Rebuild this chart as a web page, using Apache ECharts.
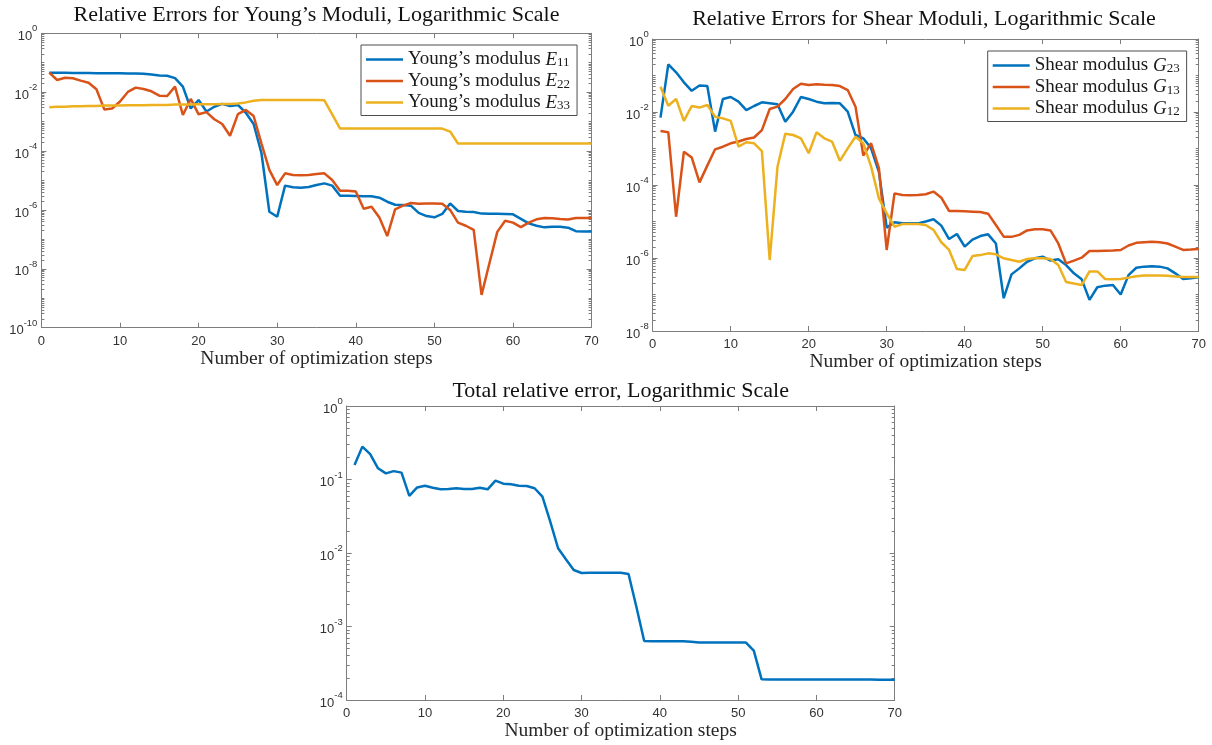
<!DOCTYPE html>
<html>
<head>
<meta charset="utf-8">
<script src="https://cdn.jsdelivr.net/npm/echarts@6/dist/echarts.min.js"></script>
<style>
  html, body { margin: 0; padding: 0; background: #ffffff; }
  #chart { width: 1212px; height: 745px; }
</style>
</head>
<body>
<div id="chart"></div>
<script>
// Optimization step index (x values 1..70)
const steps = Array.from({ length: 70 }, (_, i) => i + 1);

// Relative errors of the Young's moduli
const youngE11 = [
  0.046, 0.046, 0.046, 0.045, 0.045, 0.045, 0.044, 0.044, 0.044, 0.044,
  0.043, 0.043, 0.042, 0.040, 0.037, 0.036, 0.030, 0.0155, 0.0028, 0.0054,
  0.0022, 0.0032, 0.0040, 0.0034, 0.0037, 0.0020, 0.00083, 8.4e-5, 8.7e-7, 5.9e-7,
  6.7e-6, 5.9e-6, 5.7e-6, 6.0e-6, 7.0e-6, 8.0e-6, 6.7e-6, 3.05e-6, 3.05e-6, 3.0e-6,
  2.9e-6, 2.9e-6, 2.6e-6, 1.9e-6, 1.5e-6, 1.47e-6, 1.4e-6, 7.9e-7, 6.2e-7, 5.6e-7,
  7.3e-7, 1.67e-6, 9.2e-7, 8.7e-7, 8.5e-7, 7.5e-7, 7.4e-7, 7.4e-7, 7.3e-7, 7.1e-7,
  5.0e-7, 3.5e-7, 2.9e-7, 2.56e-7, 2.7e-7, 2.7e-7, 2.5e-7, 1.9e-7, 1.87e-7, 1.87e-7
];
const youngE22 = [
  0.046, 0.026, 0.031, 0.0296, 0.0247, 0.021, 0.0125, 0.0026, 0.0028, 0.0048,
  0.0102, 0.0143, 0.0128, 0.0107, 0.0076, 0.0074, 0.0155, 0.00168, 0.0059, 0.00177,
  0.0021, 0.0012, 0.00083, 0.00033, 0.0018, 0.0025, 0.00155, 0.00018, 2.3e-5, 7.0e-6,
  1.75e-5, 1.54e-5, 1.5e-5, 1.54e-5, 1.66e-5, 1.75e-5, 1.04e-5, 4.5e-6, 4.5e-6, 4.2e-6,
  1.1e-6, 1.29e-6, 5.5e-7, 1.3e-7, 1.05e-6, 1.4e-6, 1.72e-6, 1.63e-6, 1.67e-6, 1.67e-6,
  1.63e-6, 1.0e-6, 3.7e-7, 2.9e-7, 2.1e-7, 1.3e-9, 1.55e-8, 1.8e-7, 4.3e-7, 3.7e-7,
  2.6e-7, 3.7e-7, 4.8e-7, 5.3e-7, 5.2e-7, 4.9e-7, 4.7e-7, 5.3e-7, 5.3e-7, 5.3e-7
];
const youngE33 = [
  0.0031, 0.0032, 0.0032, 0.0033, 0.0033, 0.0034, 0.0034, 0.0035, 0.0035, 0.0035,
  0.0036, 0.0036, 0.0036, 0.0037, 0.0037, 0.0037, 0.0038, 0.0038, 0.0038, 0.0039,
  0.0039, 0.0039, 0.0040, 0.0040, 0.0041, 0.0045, 0.0051, 0.0054, 0.0054, 0.0054,
  0.0054, 0.0054, 0.0054, 0.0054, 0.0054, 0.0053, 0.00177, 0.00058, 0.00058, 0.00058,
  0.00058, 0.00058, 0.00058, 0.00058, 0.00058, 0.00058, 0.00058, 0.00058, 0.00058, 0.00058,
  0.00058, 0.00046, 0.00018, 0.00018, 0.00018, 0.00018, 0.00018, 0.00018, 0.00018, 0.00018,
  0.00018, 0.00018, 0.00018, 0.00018, 0.00018, 0.00018, 0.00018, 0.00018, 0.00018, 0.00018
];

// Relative errors of the shear moduli
const shearG23 = [
  0.0070, 0.202, 0.122, 0.065, 0.038, 0.053, 0.0515, 0.0029, 0.0227, 0.0258,
  0.0192, 0.0113, 0.0146, 0.0184, 0.0173, 0.0162, 0.0054, 0.0102, 0.0258, 0.0227,
  0.0192, 0.0173, 0.0177, 0.0173, 0.0102, 0.00234, 0.0019, 0.00101, 0.00023, 6.8e-6,
  9.5e-6, 8.9e-6, 8.9e-6, 8.9e-6, 1.0e-5, 1.15e-5, 7.7e-6, 3.3e-6, 4.55e-6, 2.04e-6,
  3.2e-6, 4.0e-6, 4.45e-6, 2.5e-6, 7.9e-8, 3.56e-7, 5.2e-7, 7.9e-7, 9.8e-7, 1.09e-6,
  8.5e-7, 9.2e-7, 6.4e-7, 3.8e-7, 2.6e-7, 7.1e-8, 1.58e-7, 1.75e-7, 1.82e-7, 1.0e-7,
  3.4e-7, 5.4e-7, 5.8e-7, 5.9e-7, 5.8e-7, 5.2e-7, 3.8e-7, 2.66e-7, 2.8e-7, 2.95e-7
];
const shearG13 = [
  0.0030, 0.00277, 1.35e-5, 0.00082, 0.00057, 0.000118, 0.00034, 0.00095, 0.00112, 0.00139,
  0.00155, 0.00182, 0.0020, 0.0032, 0.0121, 0.014, 0.0227, 0.0427, 0.0597, 0.055,
  0.0573, 0.056, 0.055, 0.0515, 0.040, 0.014, 0.00064, 0.00139, 0.00029, 1.66e-6,
  5.9e-5, 5.3e-5, 5.2e-5, 5.3e-5, 5.6e-5, 6.6e-5, 4.5e-5, 1.94e-5, 1.94e-5, 1.9e-5,
  1.86e-5, 1.82e-5, 1.64e-5, 8.0e-6, 3.85e-6, 3.8e-6, 4.3e-6, 5.7e-6, 6.1e-6, 6.1e-6,
  5.7e-6, 2.5e-6, 7.1e-7, 8.5e-7, 1.02e-6, 1.55e-6, 1.55e-6, 1.58e-6, 1.6e-6, 1.66e-6,
  2.2e-6, 2.6e-6, 2.7e-6, 2.8e-6, 2.7e-6, 2.5e-6, 2.04e-6, 1.66e-6, 1.7e-6, 1.77e-6
];
const shearG12 = [
  0.049, 0.0149, 0.0227, 0.0057, 0.0146, 0.0132, 0.0156, 0.00745, 0.0067, 0.0057,
  0.00112, 0.00148, 0.00139, 0.00085, 8.8e-7, 0.000317, 0.00255, 0.00234, 0.0019, 0.00074,
  0.00277, 0.0019, 0.00154, 0.00046, 0.00101, 0.0021, 0.00139, 0.00032, 4.3e-5, 1.67e-5,
  7.2e-6, 8.5e-6, 8.5e-6, 8.5e-6, 8.0e-6, 5.9e-6, 2.7e-6, 1.66e-6, 5.0e-7, 4.7e-7,
  1.13e-6, 1.2e-6, 1.34e-6, 1.26e-6, 9.8e-7, 8.8e-7, 7.9e-7, 9.4e-7, 9.8e-7, 9.8e-7,
  9.4e-7, 6.4e-7, 2.2e-7, 2.0e-7, 1.82e-7, 4.3e-7, 4.3e-7, 2.66e-7, 2.6e-7, 2.66e-7,
  2.9e-7, 3.15e-7, 3.3e-7, 3.3e-7, 3.3e-7, 3.25e-7, 3.1e-7, 3.0e-7, 3.0e-7, 3.0e-7
];

// Total relative error
const totalError = [
  0.157, 0.280, 0.222, 0.142, 0.121, 0.130, 0.124, 0.060, 0.078, 0.082,
  0.0774, 0.0735, 0.0745, 0.076, 0.0745, 0.0745, 0.0774, 0.0735, 0.0964, 0.0877,
  0.086, 0.082, 0.0816, 0.076, 0.0584, 0.0267, 0.0116, 0.0082, 0.00587, 0.00535,
  0.0054, 0.0054, 0.0054, 0.0054, 0.0054, 0.00518, 0.00186, 0.000635, 0.00063, 0.00063,
  0.00063, 0.00063, 0.00063, 0.00062, 0.000605, 0.000605, 0.000605, 0.000605, 0.000605, 0.000605,
  0.000605, 0.00047, 0.000191, 0.00019, 0.00019, 0.00019, 0.00019, 0.00019, 0.00019, 0.00019,
  0.00019, 0.00019, 0.00019, 0.00019, 0.00019, 0.00019, 0.00019, 0.000188, 0.000188, 0.000188
];

// Labels
const panelTitles = [
  'Relative Errors for Young\u2019s Moduli, Logarithmic Scale',
  'Relative Errors for Shear Moduli, Logarithmic Scale',
  'Total relative error, Logarithmic Scale'
];
const xAxisTitle = 'Number of optimization steps';
const youngNames = ['Young\u2019s modulus E11', 'Young\u2019s modulus E22', 'Young\u2019s modulus E33'];
const shearNames = ['Shear modulus G23', 'Shear modulus G13', 'Shear modulus G12'];
const totalName = 'Total relative error';

// Axis ticks
const xTickStep = 10;
const yMajorYoung = [1e-10, 1e-8, 1e-6, 1e-4, 1e-2, 1];
const yMajorShear = [1e-8, 1e-6, 1e-4, 1e-2, 1];
const yMajorTotal = [1e-4, 1e-3, 1e-2, 1e-1, 1];

const colors = ['#0072BD', '#D95319', '#EDB120'];
const serif = '"Liberation Serif", "Times New Roman", serif';
const sans = '"Liberation Sans", Arial, sans-serif';
const frameColor = '#7d7d7d';
const labelColor = '#333333';

// Minor log ticks: every k*10^d that is not a labelled tick
function minorTicks(lo, hi, majors) {
  const out = [];
  for (let d = lo; d < hi; d++) {
    for (let k = 1; k <= 9; k++) {
      const v = Number((k * Math.pow(10, d)).toPrecision(6));
      if (!majors.some(m => Math.abs(Math.log10(m) - Math.log10(v)) < 1e-9)) out.push(v);
    }
  }
  return out;
}

const gridBoxes = [
  { left: 41.4, top: 33.3, width: 550.2, height: 294.4 },
  { left: 652.7, top: 39, width: 546, height: 292 },
  { left: 346.7, top: 406, width: 548, height: 294 }
];

const xAxes = [];
const yAxes = [];
const series = [];

function addPanel(gi, yMin, yMax, majors) {
  const lo = Math.round(Math.log10(yMin));
  const hi = Math.round(Math.log10(yMax));
  const minors = minorTicks(lo, hi, majors);
  // bottom and top x axes
  xAxes.push({
    gridIndex: gi, type: 'value', min: 0, max: 70, interval: xTickStep, position: 'bottom',
    axisLine: { show: true, lineStyle: { color: frameColor, width: 1 } },
    axisTick: { show: true, inside: true, length: 5, lineStyle: { color: frameColor } },
    axisLabel: { color: labelColor, fontFamily: sans, fontSize: 13, margin: 7 },
    splitLine: { show: false },
    name: xAxisTitle, nameLocation: 'middle', nameGap: 21,
    nameTextStyle: { fontFamily: serif, fontSize: 19.5, color: '#262626' }
  });
  xAxes.push({
    gridIndex: gi, type: 'value', min: 0, max: 70, interval: xTickStep, position: 'top',
    axisLine: { show: true, lineStyle: { color: frameColor, width: 1 } },
    axisTick: { show: true, inside: true, length: 5, lineStyle: { color: frameColor } },
    axisLabel: { show: false }, splitLine: { show: false }
  });
  const base = { gridIndex: gi, type: 'log', logBase: 10, min: yMin, max: yMax, splitLine: { show: false } };
  const yStart = yAxes.length;
  yAxes.push(Object.assign({}, base, {
    position: 'left',
    axisLine: { show: true, lineStyle: { color: frameColor, width: 1 } },
    axisTick: { show: true, inside: true, length: 5, customValues: majors, lineStyle: { color: frameColor } },
    axisLabel: {
      customValues: majors, margin: 4, color: labelColor,
      formatter: v => '{b|10}{e|' + Math.round(Math.log10(v)) + '}',
      rich: {
        b: { fontFamily: sans, fontSize: 13, color: labelColor, lineHeight: 19, verticalAlign: 'bottom' },
        e: { fontFamily: sans, fontSize: 9.5, color: labelColor, lineHeight: 11, verticalAlign: 'top' }
      }
    }
  }));
  yAxes.push(Object.assign({}, base, {
    position: 'left', axisLine: { show: false }, axisLabel: { show: false },
    axisTick: { show: true, inside: true, length: 3, customValues: minors, lineStyle: { color: frameColor } }
  }));
  yAxes.push(Object.assign({}, base, {
    position: 'right',
    axisLine: { show: true, lineStyle: { color: frameColor, width: 1 } },
    axisTick: { show: true, inside: true, length: 5, customValues: majors, lineStyle: { color: frameColor } },
    axisLabel: { show: false }
  }));
  yAxes.push(Object.assign({}, base, {
    position: 'right', axisLine: { show: false }, axisLabel: { show: false },
    axisTick: { show: true, inside: true, length: 3, customValues: minors, lineStyle: { color: frameColor } }
  }));
  return { xIndex: gi * 2, yIndex: yStart };
}

const pYoung = addPanel(0, 1e-10, 1, yMajorYoung);
const pShear = addPanel(1, 1e-8, 1, yMajorShear);
const pTotal = addPanel(2, 1e-4, 1, yMajorTotal);

function addLine(name, values, color, panel) {
  series.push({
    name: name, type: 'line', xAxisIndex: panel.xIndex, yAxisIndex: panel.yIndex,
    data: steps.map((s, i) => [s, values[i]]),
    symbol: 'none', showSymbol: false, smooth: false,
    lineStyle: { color: color, width: 2.5 }, itemStyle: { color: color },
    silent: true, z: 3
  });
}

addLine(youngNames[0], youngE11, colors[0], pYoung);
addLine(youngNames[1], youngE22, colors[1], pYoung);
addLine(youngNames[2], youngE33, colors[2], pYoung);
addLine(shearNames[0], shearG23, colors[0], pShear);
addLine(shearNames[1], shearG13, colors[1], pShear);
addLine(shearNames[2], shearG12, colors[2], pShear);
addLine(totalName, totalError, colors[0], pTotal);

// Legend entries: "<text> <italic symbol><subscript>"
function legendFormatter(name) {
  const m = name.match(/^(.*) ([EG])(\d+)$/);
  return '{t|' + m[1] + ' }{v|' + m[2] + '}{s|' + m[3] + '}';
}
const legendRich = {
  t: { fontFamily: serif, fontSize: 19, color: '#1a1a1a', lineHeight: 20 },
  v: { fontFamily: serif, fontSize: 19, fontStyle: 'italic', color: '#1a1a1a', lineHeight: 20 },
  s: { fontFamily: serif, fontSize: 13, color: '#1a1a1a', lineHeight: 13, verticalAlign: 'bottom' }
};
function makeLegend(names, left, top) {
  return {
    data: names, orient: 'vertical', left: left, top: top,
    icon: 'rect', itemWidth: 37, itemHeight: 2.6, itemGap: 2,
    padding: [5, 7, 3, 5],
    backgroundColor: '#ffffff', borderColor: '#4d4d4d', borderWidth: 1,
    formatter: legendFormatter,
    textStyle: { rich: legendRich },
    selectedMode: false
  };
}

const option = {
  animation: false,
  backgroundColor: '#ffffff',
  grid: gridBoxes.map(g => Object.assign({ show: false, containLabel: false }, g)),
  xAxis: xAxes,
  yAxis: yAxes,
  legend: [makeLegend(youngNames, 361, 45), makeLegend(shearNames, 987.7, 51)],
  graphic: [
    { type: 'text', x: 316.5, y: 15, style: { text: panelTitles[0], font: '22px ' + serif, fill: '#111', align: 'center', verticalAlign: 'middle' } },
    { type: 'text', x: 924, y: 19, style: { text: panelTitles[1], font: '22px ' + serif, fill: '#111', align: 'center', verticalAlign: 'middle' } },
    { type: 'text', x: 620.7, y: 391, style: { text: panelTitles[2], font: '22px ' + serif, fill: '#111', align: 'center', verticalAlign: 'middle' } }
  ],
  series: series
};

const chart = echarts.init(document.getElementById('chart'), null, { renderer: 'canvas' });
chart.setOption(option);
</script>
</body>
</html>
